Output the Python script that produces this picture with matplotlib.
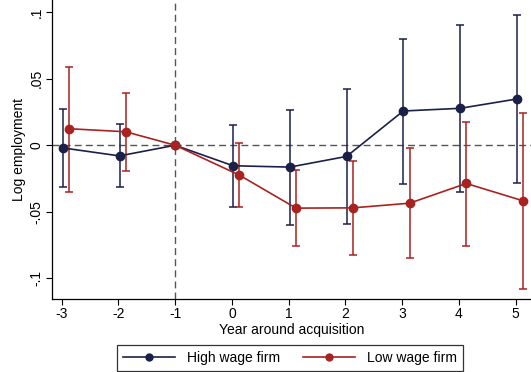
import matplotlib
matplotlib.use("Agg")
import matplotlib.pyplot as plt
from matplotlib.ticker import FixedLocator
from matplotlib.lines import Line2D

plt.rcParams['font.family'] = ['Liberation Sans', 'DejaVu Sans']

years = [-3, -2, -1, 0, 1, 2, 3, 4, 5]
high_est = [-0.002, -0.008, 0.0, -0.0154, -0.0164, -0.0084, 0.0257, 0.0277, 0.0347]
high_lo = [-0.031, -0.031, 0.0, -0.046, -0.0598, -0.0593, -0.029, -0.0352, -0.028]
high_hi = [0.027, 0.0156, 0.0, 0.0149, 0.0267, 0.0425, 0.080, 0.0904, 0.0974]
low_est = [0.0124, 0.0101, 0.0, -0.0224, -0.0472, -0.047, -0.0435, -0.0287, -0.0417]
low_lo = [-0.035, -0.0197, 0.0, -0.0467, -0.0756, -0.0823, -0.0848, -0.0753, -0.108]
low_hi = [0.059, 0.039, 0.0, 0.0017, -0.0187, -0.0122, -0.0021, 0.0171, 0.0242]
ytick_vals = [-0.1, -0.05, 0, 0.05, 0.1]
ytick_labels = ['-.1', '-.05', '0', '.05', '.1']

navy = '#1b2048'
red = '#a8231f'

fig = plt.figure(figsize=(5.31, 3.72), dpi=100)
ax = fig.add_axes([52/531, 73/372, 1 - 52/531, 1 - 73/372])

def draw(est, lo, hi, off, color):
    # small horizontal dodge between the two series (none at the reference year)
    xs = [y + (0 if y == -1 else off) for y in years]
    yerr = [[e - l for e, l in zip(est, lo)], [h - e for e, h in zip(est, hi)]]
    ax.errorbar(xs, est, yerr=yerr, color=color, ecolor=color, elinewidth=1.1,
                capsize=3, capthick=1.1, lw=1.2, marker='o', markersize=6,
                zorder=3)

ax.axhline(0, color='#555555', lw=1.0, ls=(0, (5, 3)), zorder=1)
ax.axvline(-1, color='#555555', lw=1.0, ls=(0, (5, 3)), zorder=1)

draw(high_est, high_lo, high_hi, 0.02, navy)
draw(low_est, low_lo, low_hi, 0.13, red)

ax.set_xlim(-3.17, 5.27)
ax.set_ylim(-0.1154, 0.109)
ax.set_xticks(years)
ax.set_xticklabels([str(y) for y in years], fontsize=10)
ax.yaxis.set_major_locator(FixedLocator(ytick_vals))
ax.set_yticklabels(ytick_labels, fontsize=10, rotation=90, va='center')
ax.tick_params(direction='out', length=4, width=0.8, pad=2)
for s in ['top', 'right']:
    ax.spines[s].set_visible(False)
for s in ['left', 'bottom']:
    ax.spines[s].set_linewidth(0.9)

ax.set_xlabel('Year around acquisition', fontsize=10, labelpad=1)
ax.set_ylabel('Log employment', fontsize=10, labelpad=3)

handles = [Line2D([], [], color=navy, lw=1.2, marker='o', markersize=5),
           Line2D([], [], color=red, lw=1.2, marker='o', markersize=5)]
leg = fig.legend(handles, ['High wage firm', 'Low wage firm'], loc='lower center',
                 bbox_to_anchor=(290/531, 1/372), ncol=2, fontsize=10,
                 frameon=True, fancybox=False, edgecolor='black',
                 handlelength=3.7, columnspacing=1.7, borderpad=0.45,
                 handletextpad=0.85, borderaxespad=0)
leg.get_frame().set_linewidth(0.9)

fig.savefig('out.png', dpi=100)
